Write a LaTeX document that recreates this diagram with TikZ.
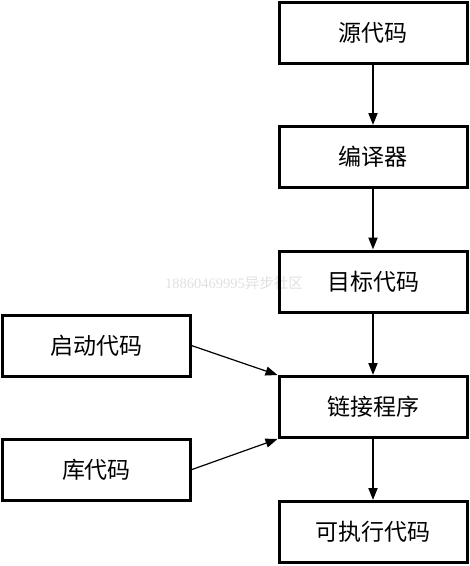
\documentclass[tikz,border=0pt]{standalone}
\usepackage{fontspec}
\setmainfont{Noto Sans CJK SC}
\newfontfamily\wmdigits{Liberation Serif}
\usetikzlibrary{arrows.meta}
\begin{document}
\begin{tikzpicture}[x=1pt,y=-1pt,
  box/.style={draw=black,line width=3pt,minimum width=188pt,minimum height=61pt,inner sep=0pt,
    font=\fontsize{23}{24}\selectfont},
  vflow/.style={line width=2pt,-{Triangle[length=12pt,width=9pt]}},
  dflow/.style={line width=1.2pt,-{Triangle[length=12pt,width=9pt]}},
  wm/.style={text=black!12,font=\fontsize{14.5}{15}\selectfont,inner sep=0pt}
]
\useasboundingbox (0,0) rectangle (470,566);
\node[wm] (mark) at (234,283) {\wmdigits 18860469995\rmfamily 异步社区};
\node[box] (src) at (373,33) {源代码};
\node[box] (cc) at (373,157) {编译器};
\node[box] (obj) at (373,281.5) {目标代码};
\node[box] (link) at (373,407) {链接程序};
\node[box] (exe) at (373,532) {可执行代码};
\node[box] (start) at (96.5,345.7) {启动代码};
\node[box] (lib) at (96.5,469.5) {库代码};
\draw[vflow] (src) -- (cc);
\draw[vflow] (cc) -- (obj);
\draw[vflow] (obj) -- (link);
\draw[vflow] (link) -- (exe);
\draw[dflow] (start.east) -- (link.north west);
\draw[dflow] (lib.east) -- (link.south west);
\end{tikzpicture}
\end{document}
